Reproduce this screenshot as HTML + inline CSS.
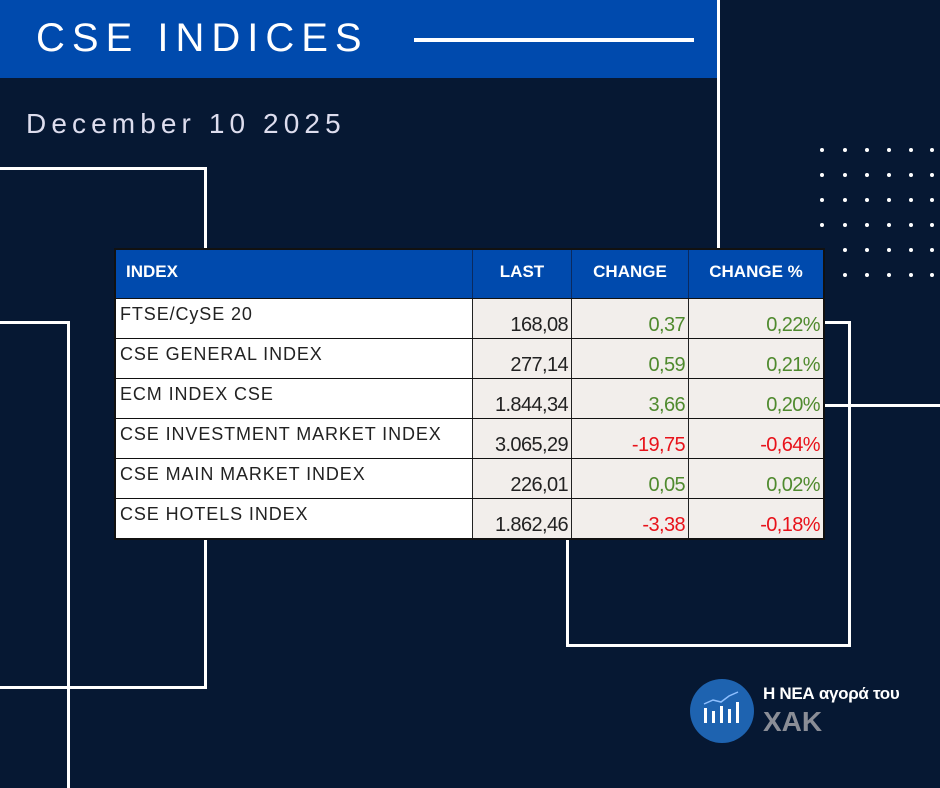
<!DOCTYPE html>
<html><head><style>
body{margin:0;width:940px;height:788px;background:#061833;position:relative;overflow:hidden;font-family:"Liberation Sans",sans-serif}
.a{position:absolute}
.w{background:#fff}
.c{position:absolute;box-sizing:border-box;white-space:nowrap}
.h{background:#004aad;color:#fff;font-weight:bold;font-size:17px;height:48px;line-height:44px;text-align:center}
.l{background:#fff;color:#222;font-size:18px;letter-spacing:0.9px;padding:5px 0 0 4px;height:39px !important}
.n{background:#f2eeeb;color:#222;font-size:20px;text-align:right;padding:15px 3px 0 0;height:39px !important;letter-spacing:-0.6px;border-left:1px solid #222}
.g{color:#4f8a2e}.r{color:#e8121a}
</style></head><body>
<div class="a" style="left:0;top:0;width:718px;height:78px;background:#004aad"></div>
<div class="a" style="left:36px;top:16px;color:#fff;font-size:40px;letter-spacing:7px">CSE INDICES</div>
<div class="a w" style="left:414px;top:38px;width:280px;height:4px"></div>
<div class="a w" style="left:717px;top:0;width:3px;height:250px"></div>
<div class="a" style="left:26px;top:108px;color:#dde;font-size:28px;letter-spacing:5.1px">December 10 2025</div>
<div class="a w" style="left:0;top:167px;width:207px;height:3px"></div>
<div class="a w" style="left:204px;top:167px;width:3px;height:522px"></div>
<div class="a w" style="left:0;top:686px;width:207px;height:3px"></div>
<div class="a w" style="left:0;top:321px;width:70px;height:3px"></div>
<div class="a w" style="left:67px;top:321px;width:3px;height:467px"></div>
<div class="a w" style="left:800px;top:321px;width:51px;height:3px"></div>
<div class="a w" style="left:848px;top:321px;width:3px;height:326px"></div>
<div class="a w" style="left:566px;top:644px;width:285px;height:3px"></div>
<div class="a w" style="left:566px;top:500px;width:3px;height:147px"></div>
<div class="a w" style="left:800px;top:404px;width:140px;height:3px"></div>
<svg class="a" style="left:0;top:0" width="940" height="300">
<g fill="#fff">
<circle cx="822" cy="150" r="2"/><circle cx="845" cy="150" r="2"/><circle cx="867" cy="150" r="2"/><circle cx="889" cy="150" r="2"/><circle cx="911" cy="150" r="2"/>
<circle cx="822" cy="175" r="2"/><circle cx="845" cy="175" r="2"/><circle cx="867" cy="175" r="2"/><circle cx="889" cy="175" r="2"/><circle cx="911" cy="175" r="2"/>
<circle cx="822" cy="200" r="2"/><circle cx="845" cy="200" r="2"/><circle cx="867" cy="200" r="2"/><circle cx="889" cy="200" r="2"/><circle cx="911" cy="200" r="2"/>
<circle cx="822" cy="225" r="2"/><circle cx="845" cy="225" r="2"/><circle cx="867" cy="225" r="2"/><circle cx="889" cy="225" r="2"/><circle cx="911" cy="225" r="2"/>
<circle cx="845" cy="250" r="2"/><circle cx="867" cy="250" r="2"/><circle cx="889" cy="250" r="2"/><circle cx="911" cy="250" r="2"/><circle cx="932" cy="250" r="2"/>
<circle cx="845" cy="275" r="2"/><circle cx="867" cy="275" r="2"/><circle cx="889" cy="275" r="2"/><circle cx="911" cy="275" r="2"/><circle cx="932" cy="275" r="2"/>
<circle cx="932" cy="150" r="2"/><circle cx="932" cy="175" r="2"/><circle cx="932" cy="200" r="2"/><circle cx="932" cy="225" r="2"/>
</g></svg>
<div class="a" style="left:114px;top:248px;width:711px;height:292px;background:#111"></div>
<div class="c h" style="left:116px;top:250px;width:356px;text-align:left;padding-left:10px">INDEX</div>
<div class="c h" style="left:472px;top:250px;width:99px;border-left:1px solid #0a2a60">LAST</div>
<div class="c h" style="left:571px;top:250px;width:117px;border-left:1px solid #0a2a60">CHANGE</div>
<div class="c h" style="left:688px;top:250px;width:135px;border-left:1px solid #0a2a60">CHANGE %</div>

<div class="c l" style="left:116px;top:299px;width:356px">FTSE/CySE 20</div>
<div class="c n" style="left:472px;top:299px;width:99px">168,08</div>
<div class="c n g" style="left:571px;top:299px;width:117px">0,37</div>
<div class="c n g" style="left:688px;top:299px;width:135px">0,22%</div>

<div class="c l" style="left:116px;top:339px;width:356px">CSE GENERAL INDEX</div>
<div class="c n" style="left:472px;top:339px;width:99px">277,14</div>
<div class="c n g" style="left:571px;top:339px;width:117px">0,59</div>
<div class="c n g" style="left:688px;top:339px;width:135px">0,21%</div>

<div class="c l" style="left:116px;top:379px;width:356px">ECM INDEX CSE</div>
<div class="c n" style="left:472px;top:379px;width:99px">1.844,34</div>
<div class="c n g" style="left:571px;top:379px;width:117px">3,66</div>
<div class="c n g" style="left:688px;top:379px;width:135px">0,20%</div>

<div class="c l" style="left:116px;top:419px;width:356px">CSE INVESTMENT MARKET INDEX</div>
<div class="c n" style="left:472px;top:419px;width:99px">3.065,29</div>
<div class="c n r" style="left:571px;top:419px;width:117px">-19,75</div>
<div class="c n r" style="left:688px;top:419px;width:135px">-0,64%</div>

<div class="c l" style="left:116px;top:459px;width:356px">CSE MAIN MARKET INDEX</div>
<div class="c n" style="left:472px;top:459px;width:99px">226,01</div>
<div class="c n g" style="left:571px;top:459px;width:117px">0,05</div>
<div class="c n g" style="left:688px;top:459px;width:135px">0,02%</div>

<div class="c l" style="left:116px;top:499px;width:356px">CSE HOTELS INDEX</div>
<div class="c n" style="left:472px;top:499px;width:99px">1.862,46</div>
<div class="c n r" style="left:571px;top:499px;width:117px">-3,38</div>
<div class="c n r" style="left:688px;top:499px;width:135px">-0,18%</div>

<svg class="a" style="left:689px;top:678px" width="66" height="66">
<circle cx="33" cy="33" r="32" fill="#1e63b0"/>
<g fill="#fff"><rect x="15" y="30" width="3" height="15"/><rect x="23" y="33" width="3" height="12"/><rect x="31" y="28" width="3" height="17"/><rect x="39" y="31" width="3" height="14"/><rect x="47" y="24" width="3" height="21"/></g>
<polyline points="15,26 24,22 32,24 40,18 49,14" fill="none" stroke="#8fc0ff" stroke-width="1.5"/>
</svg>
<div class="a" style="left:763px;top:684px;color:#fff;font-weight:bold;font-size:17px;letter-spacing:-0.3px">Η ΝΕΑ αγορά του</div>
<div class="a" style="left:763px;top:706px;color:#8a8d96;font-weight:bold;font-size:28px">ΧΑΚ</div>
</body></html>
